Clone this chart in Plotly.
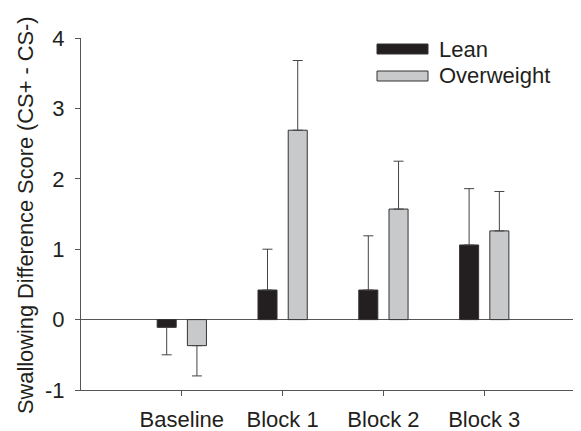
import plotly.graph_objects as go

categories = ["Baseline", "Block 1", "Block 2", "Block 3"]
lean_values = [-0.11, 0.42, 0.42, 1.06]
lean_errors = [0.39, 0.58, 0.77, 0.80]
overweight_values = [-0.37, 2.69, 1.57, 1.26]
overweight_errors = [0.43, 0.99, 0.68, 0.56]
y_ticks = [-1, 0, 1, 2, 3, 4]
y_tick_labels = ["-1", "0", "1", "2", "3", "4"]

FONT = "Liberation Sans, Arial, sans-serif"
TXT = "#231f20"
OFF = 8  # page body margin offset
W, H = 581 - OFF, 431 - OFF
L, R, T, B = 81 - OFF, 0, 38 - OFF, 431 - 390
PW, PH = W - L - R, H - T - B


def one_sided(vals, errs):
    up = [e if v >= 0 else 0 for v, e in zip(vals, errs)]
    down = [e if v < 0 else 0 for v, e in zip(vals, errs)]
    return up, down


fig = go.Figure()
for name, vals, errs, color in [
    ("Lean", lean_values, lean_errors, "#231f20"),
    ("Overweight", overweight_values, overweight_errors, "#c8c9cb"),
]:
    up, down = one_sided(vals, errs)
    fig.add_trace(go.Bar(
        x=categories, y=vals, name=name,
        marker=dict(color=color, line=dict(color="#333333", width=1)),
        error_y=dict(type="data", symmetric=False, array=up, arrayminus=down,
                     color="#444444", thickness=1, width=5),
        showlegend=False,
    ))


def px_x(p):
    return (p - OFF - L) / PW


def px_y(p):
    return (H - B - (p - OFF)) / PH


# custom legend
for name, color, yc in [("Lean", "#231f20", 49), ("Overweight", "#c8c9cb", 76)]:
    fig.add_shape(type="rect", xref="paper", yref="paper",
                  x0=px_x(377), x1=px_x(428), y0=px_y(yc - 5), y1=px_y(yc + 5),
                  fillcolor=color, line=dict(color="#333333", width=1))
    fig.add_annotation(xref="paper", yref="paper", x=px_x(437), y=px_y(yc),
                       xanchor="left", yanchor="middle", text=name, showarrow=False,
                       font=dict(family=FONT, size=22, color=TXT))

fig.add_annotation(xref="paper", yref="paper", x=px_x(25), y=px_y(215),
                   xanchor="center", yanchor="middle", textangle=-90,
                   text="Swallowing Difference Score (CS+ - CS-)", showarrow=False,
                   font=dict(family=FONT, size=21.8, color=TXT))

fig.update_layout(
    width=W, height=H,
    margin=dict(l=L, r=R, t=T, b=B, pad=0),
    paper_bgcolor="white", plot_bgcolor="white",
    barmode="group", bargap=0.4, bargroupgap=0.37,
    font=dict(family=FONT, size=22, color=TXT),
    xaxis=dict(range=[-1.0, 3.96], showline=True, linecolor="#555555", linewidth=1,
               ticks="outside", ticklen=5, tickcolor="#555555", showgrid=False,
               zeroline=False, ticklabelstandoff=5,
               tickfont=dict(family=FONT, size=22, color=TXT)),
    yaxis=dict(range=[-1, 4], tickvals=y_ticks, ticktext=y_tick_labels,
               showline=True, linecolor="#555555",
               linewidth=1, ticks="outside", ticklen=5, tickcolor="#555555",
               showgrid=False, zeroline=True, zerolinecolor="#555555", zerolinewidth=1,
               ticklabelstandoff=6,
               tickfont=dict(family=FONT, size=22, color=TXT)),
)

fig.write_html("out.html")
